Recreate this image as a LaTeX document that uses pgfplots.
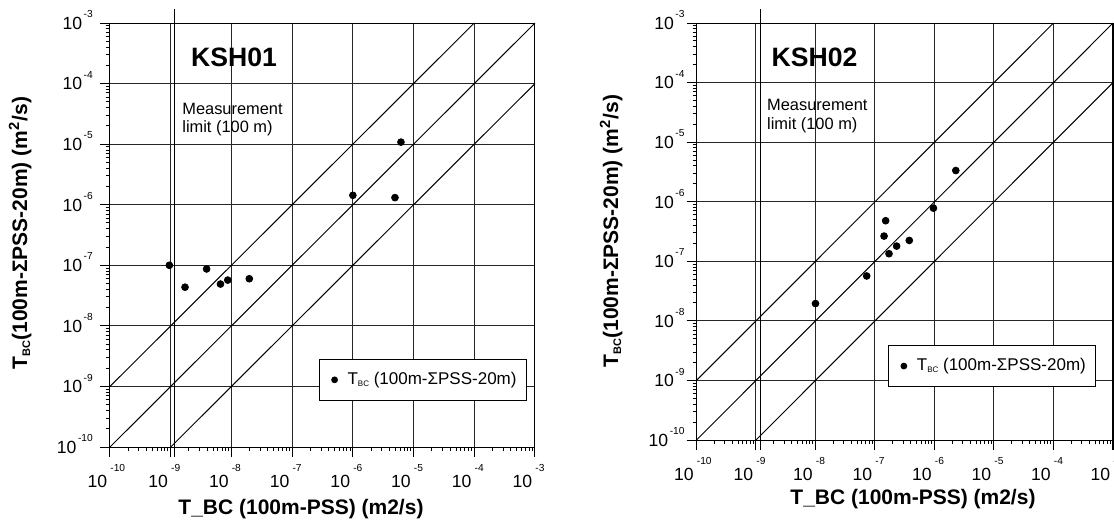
\documentclass[border=0pt]{standalone}
\usepackage{pgfplots}
\pgfplotsset{compat=1.18}
\usepackage{fontspec}
\setmainfont{Liberation Sans}
\newcommand{\xtl}[1]{\llap{10\hspace{1.6pt}}\raisebox{8pt}{\fontsize{5.1}{5.1}\selectfont #1}}
\newcommand{\ytl}[1]{10\hspace{0.8pt}\raisebox{5.8pt}{\fontsize{5.1}{5.1}\selectfont #1}}
\newcommand{\lsub}{\raisebox{-1pt}{\fontsize{4}{4}\selectfont BC}}
\begin{document}
\begin{tikzpicture}
% ---------------- left panel ----------------
\begin{axis}[xmode=log, ymode=log, scale only axis,
  at={(55pt,-223.5pt)}, anchor=south west, width=212.5pt, height=212pt,
  xmin=1e-10, xmax=1e-3, ymin=1e-10, ymax=1e-3,
  xtick={1e-10,1e-9,1e-8,1e-7,1e-6,1e-5,1e-4,1e-3},
  ytick={1e-10,1e-9,1e-8,1e-7,1e-6,1e-5,1e-4,1e-3},
  xticklabels={\xtl{-10},\xtl{-9},\xtl{-8},\xtl{-7},\xtl{-6},\xtl{-5},\xtl{-4},\xtl{-3}},
  yticklabels={\ytl{-10},\ytl{-9},\ytl{-8},\ytl{-7},\ytl{-6},\ytl{-5},\ytl{-4},\ytl{-3}},
  tick pos=left, tick align=outside,
  major tick length=5pt, minor tick length=2pt,
  tick style={black, line width=0.5pt},
  axis line style={black, line width=0.5pt},
  xmajorgrids, ymajorgrids,
  major grid style={black!85, line width=0.5pt},
  xticklabel style={anchor=base west, inner sep=0pt, font=\fontsize{8.8}{8.8}\selectfont},
  yticklabel style={anchor=base east, inner sep=0pt, yshift=-3.15pt, font=\fontsize{8.8}{8.8}\selectfont},
  xticklabel shift=15pt, yticklabel shift=3.4pt,
  clip=false,
  legend style={draw=black, line width=0.5pt, fill=white, anchor=south west,
    at={(0.492,0.1085)},
    inner xsep=3pt, inner ysep=4.5pt, font=\fontsize{8.5}{10}\selectfont},
  legend image code/.code={\path[draw=none,fill=none] (0pt,-1pt) rectangle (9pt,1pt); \fill[black,draw=none] (4.5pt,0pt) circle (1.7pt);},
  ]
\addplot[only marks, mark=*, mark size=1.7pt, black] coordinates {
 (9.5e-10,1e-7) (1.72e-9,4.35e-8) (3.9e-9,8.7e-8) (6.6e-9,4.9e-8) (8.7e-9,5.7e-8)
 (1.97e-8,6.0e-8) (1e-6,1.43e-6) (4.94e-6,1.31e-6) (6.2e-6,1.08e-5)};
\addlegendentry{T\lsub\ (100m-ΣPSS-20m)}
\addplot[black, line width=0.5pt, forget plot] coordinates {(1e-10,1e-9) (1e-4,1e-3)};
\addplot[black, line width=0.5pt, forget plot] coordinates {(1e-10,1e-10) (1e-3,1e-3)};
\addplot[black, line width=0.5pt, forget plot] coordinates {(1e-9,1e-10) (1e-3,1e-4)};
\addplot[black, line width=0.5pt, forget plot] coordinates {(1.16e-9,1.68e-3) (1.16e-9,6.84e-11)};
\end{axis}
% ---------------- right panel ----------------
\begin{axis}[xmode=log, ymode=log, scale only axis,
  at={(348.25pt,-220pt)}, anchor=south west, width=208.25pt, height=208.5pt,
  xmin=1e-10, xmax=1e-3, ymin=1e-10, ymax=1e-3,
  xtick={1e-10,1e-9,1e-8,1e-7,1e-6,1e-5,1e-4,1e-3},
  ytick={1e-10,1e-9,1e-8,1e-7,1e-6,1e-5,1e-4,1e-3},
  xticklabels={\xtl{-10},\xtl{-9},\xtl{-8},\xtl{-7},\xtl{-6},\xtl{-5},\xtl{-4},\xtl{-3}},
  yticklabels={\ytl{-10},\ytl{-9},\ytl{-8},\ytl{-7},\ytl{-6},\ytl{-5},\ytl{-4},\ytl{-3}},
  tick pos=left, tick align=outside,
  major tick length=5pt, minor tick length=2pt,
  tick style={black, line width=0.5pt},
  axis line style={black, line width=0.5pt},
  xmajorgrids, ymajorgrids,
  major grid style={black!85, line width=0.5pt},
  xticklabel style={anchor=base west, inner sep=0pt, font=\fontsize{8.8}{8.8}\selectfont},
  yticklabel style={anchor=base east, inner sep=0pt, yshift=-3.15pt, font=\fontsize{8.8}{8.8}\selectfont},
  xticklabel shift=15pt, yticklabel shift=0.8pt,
  clip=false,
  legend style={draw=black, line width=0.5pt, fill=white, anchor=south west,
    at={(0.4607,0.1266)},
    inner xsep=3pt, inner ysep=4.5pt, font=\fontsize{8.5}{10}\selectfont},
  legend image code/.code={\path[draw=none,fill=none] (0pt,-1pt) rectangle (9pt,1pt); \fill[black,draw=none] (4.5pt,0pt) circle (1.7pt);},
  ]
\addplot[only marks, mark=*, mark size=1.7pt, black] coordinates {
 (1e-8,1.95e-8) (7.25e-8,5.67e-8) (1.42e-7,2.65e-7) (1.51e-7,4.8e-7) (1.72e-7,1.34e-7)
 (2.31e-7,1.8e-7) (3.77e-7,2.24e-7) (9.6e-7,7.8e-7) (2.28e-6,3.34e-6)};
\addlegendentry{T\lsub\ (100m-ΣPSS-20m)}
\addplot[black, line width=0.5pt, forget plot] coordinates {(1e-10,1e-9) (1e-4,1e-3)};
\addplot[black, line width=0.5pt, forget plot] coordinates {(1e-10,1e-10) (1e-3,1e-3)};
\addplot[black, line width=0.5pt, forget plot] coordinates {(1e-9,1e-10) (1e-3,1e-4)};
\addplot[black, line width=0.5pt, forget plot] coordinates {(1.19e-9,1.7e-3) (1.19e-9,6.8e-11)};
\end{axis}
% ---------------- texts ----------------
\node[font=\bfseries\fontsize{13.3}{14}\selectfont] at (117pt,-28.5pt) {KSH01};
\node[font=\bfseries\fontsize{13.3}{14}\selectfont] at (407.3pt,-28.45pt) {KSH02};
\node[anchor=base west, inner sep=0pt, font=\fontsize{8.2}{9}\selectfont] at (91pt,-57pt) {Measurement};
\node[anchor=base west, inner sep=0pt, font=\fontsize{8.2}{9}\selectfont] at (91pt,-66.4pt) {limit (100 m)};
\node[anchor=base west, inner sep=0pt, font=\fontsize{8.2}{9}\selectfont] at (383.4pt,-55pt) {Measurement};
\node[anchor=base west, inner sep=0pt, font=\fontsize{8.2}{9}\selectfont] at (383.4pt,-64.8pt) {limit (100 m)};
\node[anchor=base, inner sep=0pt, font=\bfseries\fontsize{10.5}{12}\selectfont] at (150.5pt,-257.4pt) {T\_BC (100m-PSS) (m2/s)};
\node[anchor=base, inner sep=0pt, font=\bfseries\fontsize{10.5}{12}\selectfont] at (456.5pt,-252.2pt) {T\_BC (100m-PSS) (m2/s)};
\node[rotate=90, anchor=base, inner sep=0pt, font=\bfseries\fontsize{10.5}{12}\selectfont] at (13.5pt,-116.5pt) {T\raisebox{-1.5pt}{\fontsize{5.5}{6}\selectfont BC}(100m-ΣPSS-20m) (m\textsuperscript{2}/s)};
\node[rotate=90, anchor=base, inner sep=0pt, font=\bfseries\fontsize{10.5}{12}\selectfont] at (309pt,-115.5pt) {T\raisebox{-1.5pt}{\fontsize{5.5}{6}\selectfont BC}(100m-ΣPSS-20m) (m\textsuperscript{2}/s)};
\pgfresetboundingbox
\useasboundingbox (0pt,0pt) rectangle (557pt,-265pt);
\end{tikzpicture}
\end{document}
